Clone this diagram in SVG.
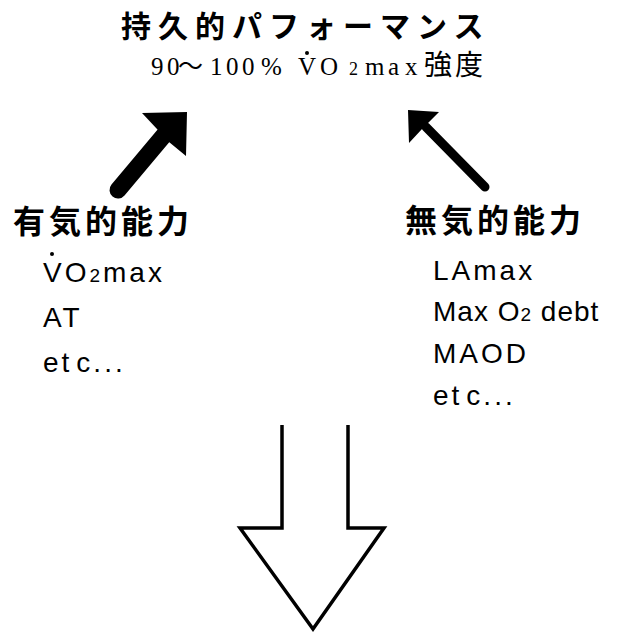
<svg xmlns="http://www.w3.org/2000/svg" width="618" height="632" viewBox="0 0 618 632">
<style>
.jp{font-family:"Noto Sans CJK JP","Noto Sans",sans-serif;font-weight:bold;fill:#000}
.title{font-size:30px;letter-spacing:7px}
.lab{font-size:32px;letter-spacing:4px}
.sub{font-family:"Liberation Serif","Noto Sans CJK JP",serif;font-size:25px;fill:#000}
.cjk{font-family:"Noto Sans CJK JP",sans-serif}
.item{font-family:"Liberation Sans",Arial,sans-serif;font-size:28px;letter-spacing:3px;fill:#000}
.s2{font-size:19px}
.s2b{font-size:18px}
.dot{fill:#000}
</style>
<rect width="618" height="632" fill="#fff"/>
<g id="performance">
<text class="jp title" x="121" y="37">持久的パフォーマンス</text>
<text class="sub" y="75"><tspan x="151 167">90</tspan><tspan x="178" class="cjk">～</tspan><tspan x="210 226 242 261">100%</tspan><tspan x="298 320">VO</tspan><tspan x="349" class="s2b">2</tspan><tspan x="365 388 405">max</tspan><tspan x="424 455" class="cjk" style="font-size:28px">強度</tspan></text>
<circle class="dot" cx="307" cy="53" r="2"/>
</g>
<g id="aerobic">
<text class="jp lab" x="13" y="233">有気的能力</text>
<text class="item" x="43" y="282">VO<tspan class="s2">2</tspan>max</text>
<circle class="dot" cx="52" cy="254" r="2"/>
<text class="item" x="43" y="327">AT</text>
<text class="item" x="43" y="372">et<tspan dx="4">c...</tspan></text>
</g>
<g id="anaerobic">
<text class="jp lab" x="405" y="232">無気的能力</text>
<text class="item" x="433" y="280">LAmax</text>
<text class="item" x="433" y="321" style="letter-spacing:1px">Max O<tspan class="s2">2</tspan> debt</text>
<text class="item" x="433" y="363">MAOD</text>
<text class="item" x="433" y="405">et<tspan dx="4">c...</tspan></text>
</g>
<g id="connectors">
<line x1="165" y1="134" x2="118" y2="190" stroke="#000" stroke-width="17" stroke-linecap="round"/>
<polygon points="187,112 142,113 157,129 169,142 186,156" fill="#000"/>
<line x1="426" y1="127" x2="485" y2="187" stroke="#000" stroke-width="9" stroke-linecap="round"/>
<polygon points="408,110 439,112 428,123 422,129 409,143" fill="#000"/>
<polyline points="282,425 282,528 240,528 313,629 384,528 348,528 348,425" fill="#fff" stroke="#000" stroke-width="3.5" stroke-linejoin="miter"/>
</g>
</svg>
